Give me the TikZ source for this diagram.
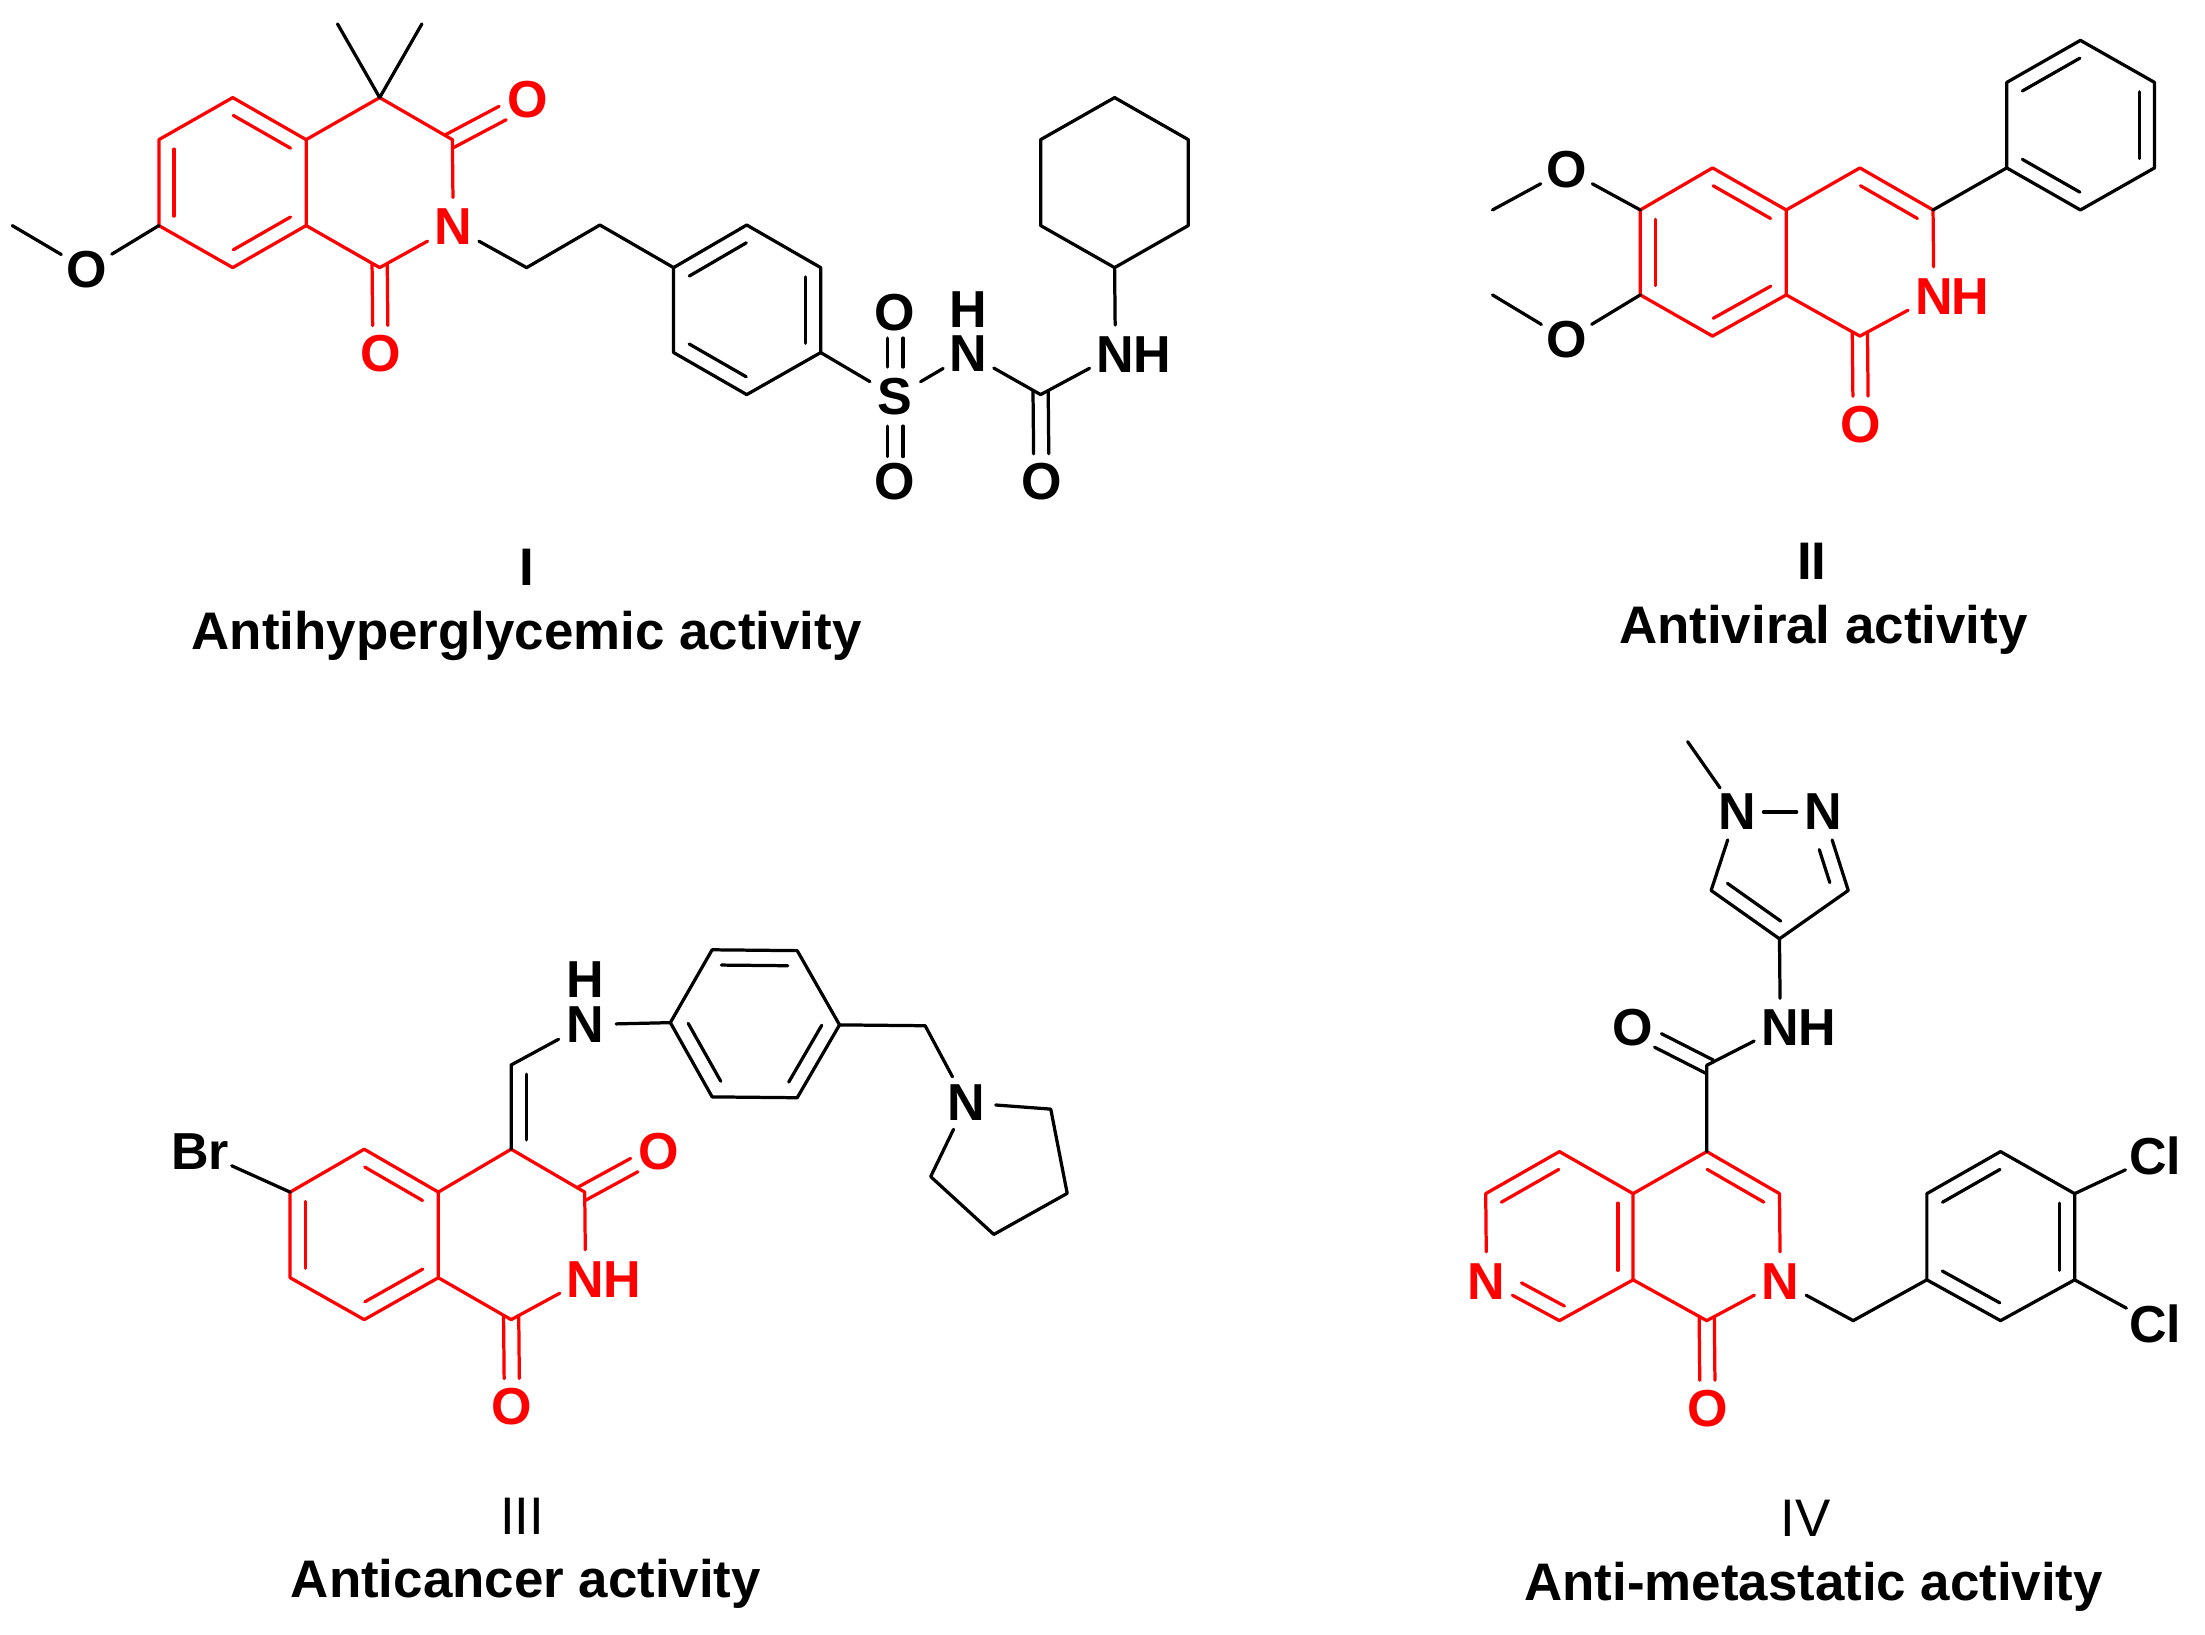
\documentclass[tikz,border=0pt]{standalone}
\usepackage{fontspec}
\setmainfont{Liberation Sans}
\usetikzlibrary{calc}
\tikzset{
  bond/.style={line width=1.15pt,line join=round,line cap=round},
  rb/.style={bond,draw=red},
  kb/.style={bond,draw=black},
  atomnode/.style={circle,inner sep=0pt,minimum size=20.5pt,xshift=0.3pt,yshift=-0.5pt,font=\fontsize{18.5}{22}\bfseries\selectfont},
  nhnode/.style={atomnode,minimum size=0pt},
  hnode/.style={inner sep=0pt,xshift=0.3pt,yshift=-0.5pt,font=\fontsize{18.5}{22}\bfseries\selectfont},
  capt/.style={inner sep=0pt,anchor=base,yshift=-1pt,font=\fontsize{18.8}{22}\bfseries\selectfont},
  numb/.style={inner sep=0pt,anchor=base,yshift=-0.5pt,font=\fontsize{18.8}{22}\bfseries\selectfont},
  numr/.style={inner sep=0pt,anchor=base,yshift=-0.8pt,font=\fontsize{18.8}{22}\selectfont},
}
% inner line of a double bond, on the right-hand side of a->b
\newcommand{\inbondf}[5]{\draw[#1] ($(#2)!#4!(#3)!5.4pt!-90:(#3)$) -- ($(#2)!#5!(#3)!5.4pt!-90:(#3)$);}
\newcommand{\inbond}[3]{\inbondf{#1}{#2}{#3}{0.11}{0.89}}
% C=O : symmetric pair from a carbon vertex to an atom node
\newcommand{\cdbl}[3]{%
  \draw[#1] ($(#2)!-1.2pt!(#3)!2.7pt!90:(#3)$) -- ($(#3)!10pt!(#2)!2.7pt!-90:(#2)$);
  \draw[#1] ($(#2)!-1.2pt!(#3)!2.7pt!-90:(#3)$) -- ($(#3)!10pt!(#2)!2.7pt!90:(#2)$);}
% S=O : symmetric pair, gaps at both ends
\newcommand{\sdbl}[3]{%
  \draw[#1] ($(#2)!10.5pt!(#3)!2.8pt!90:(#3)$) -- ($(#3)!9pt!(#2)!2.8pt!-90:(#2)$);
  \draw[#1] ($(#2)!10.5pt!(#3)!2.8pt!-90:(#3)$) -- ($(#3)!9pt!(#2)!2.8pt!90:(#2)$);}
\begin{document}
\begin{tikzpicture}[x=0.5pt,y=-0.5pt]
\useasboundingbox[fill=white] (0,0) rectangle (1568,1162);

%%% Compound I
\coordinate (Av1) at (165.5,69.4);
\coordinate (Av2) at (217.7,99.3);
\coordinate (Av3) at (217.7,160.4);
\coordinate (Av4) at (165.5,190.3);
\coordinate (Av5) at (113,160.4);
\coordinate (Av6) at (113,99.3);
\coordinate (Ac4) at (270,69.4);
\coordinate (Ac3) at (321.7,99.3);
\coordinate (Ac1) at (270,190.3);
\coordinate (Am1) at (240,17);
\coordinate (Am2) at (300,17);
\coordinate (Ame) at (8.7,160.4);
\coordinate (Ach1) at (374.5,190.3);
\coordinate (Ach2) at (426.6,160);
\coordinate (Ar1) at (479,190.3);
\coordinate (Ar2) at (531,160);
\coordinate (Ar3) at (583.6,190.3);
\coordinate (Ar4) at (583.6,250.7);
\coordinate (Ar5) at (531,280.6);
\coordinate (Ar6) at (479,250.7);
\coordinate (Acu) at (740,280.6);
\coordinate (Ah1) at (792.6,190.3);
\coordinate (Ah2) at (740,160.4);
\coordinate (Ah3) at (740,99.3);
\coordinate (Ah4) at (792.6,69.4);
\coordinate (Ah5) at (845,99.3);
\coordinate (Ah6) at (845,160.4);
\node[atomnode,text=red] (AN) at (321.7,160.4) {N};
\node[atomnode,text=red] (AO3) at (374.5,70) {O};
\node[atomnode,text=red] (AO1) at (270,250.5) {O};
\node[atomnode] (AOm) at (61,190.6) {O};
\node[atomnode] (AS) at (636,281) {S};
\node[atomnode] (AOs1) at (636,221.4) {O};
\node[atomnode] (AOs2) at (636,341.7) {O};
\node[nhnode] (ANa) at (688,250.5) {N};
\node[hnode] (AHa) at (688,219) {H};
\node[atomnode] (AOu) at (740,341.7) {O};
\node[atomnode] (ANb) at (792.6,251) {N};
\node[hnode] (AHb) at (818.6,251) {H};
\draw[rb] (Av1)--(Av2)--(Av3)--(Av4)--(Av5)--(Av6)--cycle;
\draw[rb] (Av2)--(Ac4)--(Ac3)--(AN);
\draw[rb] (AN)--(Ac1)--(Av3);
\inbond{rb}{Av1}{Av2}\inbond{rb}{Av3}{Av4}\inbond{rb}{Av5}{Av6}
\cdbl{rb}{Ac3}{AO3}\cdbl{rb}{Ac1}{AO1}
\draw[kb] (Am1)--(Ac4)--(Am2);
\draw[kb] (Av5)--(AOm)--(Ame);
\draw[kb] (AN)--(Ach1)--(Ach2)--(Ar1);
\draw[kb] (Ar1)--(Ar2)--(Ar3)--(Ar4)--(Ar5)--(Ar6)--cycle;
\inbond{kb}{Ar1}{Ar2}\inbond{kb}{Ar3}{Ar4}\inbond{kb}{Ar5}{Ar6}
\draw[kb] (Ar4)--(AS);
\sdbl{kb}{AS}{AOs1}\sdbl{kb}{AS}{AOs2}
\draw[kb,shorten >=1pt] (AS)--(ANa);
\draw[kb,shorten >=1pt] (Acu)--(ANa);
\draw[kb] (Acu)--(ANb);
\cdbl{kb}{Acu}{AOu}
\draw[kb] (ANb)--(Ah1);
\draw[kb] (Ah1)--(Ah2)--(Ah3)--(Ah4)--(Ah5)--(Ah6)--cycle;
\node[numb] (Alab) at (374.5,415.7) {I};
\node[capt] (Acap) at (374.5,460) {Antihyperglycemic activity};

%%% Compound II
\coordinate (Bv1) at (1217.8,119.4);
\coordinate (Bv2) at (1270.2,149.3);
\coordinate (Bv3) at (1270.2,209.7);
\coordinate (Bv4) at (1217.8,239);
\coordinate (Bv5) at (1166.4,209.7);
\coordinate (Bv6) at (1166.4,149.3);
\coordinate (Bc4) at (1322.6,119.4);
\coordinate (Bc3) at (1374.6,149.3);
\coordinate (Bc1) at (1322.6,239);
\coordinate (Bp1) at (1427,119.4);
\coordinate (Bp2) at (1427,58.6);
\coordinate (Bp3) at (1479.4,28.7);
\coordinate (Bp4) at (1532.1,58.6);
\coordinate (Bp5) at (1532.1,119.4);
\coordinate (Bp6) at (1479.4,149.3);
\coordinate (Bm1) at (1061.3,149.3);
\coordinate (Bm2) at (1061.3,209.7);
\node[atomnode,text=red] (BN) at (1374.6,209.7) {N};
\node[hnode,text=red] (BH) at (1400.6,209.7) {H};
\node[atomnode,text=red] (BO) at (1322.6,300.7) {O};
\node[atomnode] (BO1) at (1113.4,119.7) {O};
\node[atomnode] (BO2) at (1113.4,240.5) {O};
\draw[rb] (Bv1)--(Bv2)--(Bv3)--(Bv4)--(Bv5)--(Bv6)--cycle;
\draw[rb] (Bv2)--(Bc4)--(Bc3)--(BN);
\draw[rb] (BN)--(Bc1)--(Bv3);
\inbond{rb}{Bv1}{Bv2}\inbond{rb}{Bv3}{Bv4}\inbond{rb}{Bv5}{Bv6}\inbond{rb}{Bc4}{Bc3}
\cdbl{rb}{Bc1}{BO}
\draw[kb] (Bc3)--(Bp1);
\draw[kb] (Bp1)--(Bp2)--(Bp3)--(Bp4)--(Bp5)--(Bp6)--cycle;
\inbond{kb}{Bp2}{Bp3}\inbond{kb}{Bp4}{Bp5}\inbond{kb}{Bp6}{Bp1}
\draw[kb] (Bv6)--(BO1)--(Bm1);
\draw[kb] (Bv5)--(BO2)--(Bm2);
\node[numb] (Blab) at (1288.3,411) {II};
\node[capt] (Bcap) at (1296.6,455.8) {Antiviral activity};

%%% Compound III
\coordinate (Cv1) at (259,817.2);
\coordinate (Cv2) at (311.7,847.7);
\coordinate (Cv3) at (311.7,908.6);
\coordinate (Cv4) at (259,938.4);
\coordinate (Cv5) at (206.3,908.6);
\coordinate (Cv6) at (206.3,847.7);
\coordinate (Cc4) at (363.5,817.2);
\coordinate (Cc3) at (415.8,847.7);
\coordinate (Cc1) at (363.5,938.4);
\coordinate (Cch) at (363.5,757.3);
\coordinate (Cr1) at (476.7,727.2);
\coordinate (Cr2) at (506.4,675.4);
\coordinate (Cr3) at (566.9,676);
\coordinate (Cr4) at (597,728.8);
\coordinate (Cr5) at (566.9,780.6);
\coordinate (Cr6) at (506.4,780);
\coordinate (Cme) at (657.9,729.4);
\coordinate (Cp2) at (747.2,788.7);
\coordinate (Cp3) at (758.9,848.6);
\coordinate (Cp4) at (706.7,877.8);
\coordinate (Cp5) at (661.8,836.7);
\node[atomnode,text=red] (CN) at (415.8,908.6) {N};
\node[hnode,text=red] (CHr) at (441.8,908.6) {H};
\node[atomnode,text=red] (CO1) at (363.5,999.3) {O};
\node[atomnode,text=red] (CO3) at (468,817.9) {O};
\node[atomnode] (CBr) at (141.8,817.9) {Br};
\node[nhnode] (CNa) at (415.8,727.6) {N};
\node[hnode] (CHa) at (415.8,695.5) {H};
\node[atomnode] (CNp) at (686.6,783.2) {N};
\draw[rb] (Cv1)--(Cv2)--(Cv3)--(Cv4)--(Cv5)--(Cv6)--cycle;
\draw[rb] (Cv2)--(Cc4)--(Cc3)--(CN);
\draw[rb] (CN)--(Cc1)--(Cv3);
\inbond{rb}{Cv1}{Cv2}\inbond{rb}{Cv3}{Cv4}\inbond{rb}{Cv5}{Cv6}
\cdbl{rb}{Cc3}{CO3}\cdbl{rb}{Cc1}{CO1}
\draw[kb] (Cv6)--(CBr);
\draw[kb,shorten >=1.5pt] (Cc4)--(Cch)--(CNa);
\inbond{kb}{Cc4}{Cch}
\draw[kb,shorten <=1.5pt] (CNa)--(Cr1);
\draw[kb] (Cr1)--(Cr2)--(Cr3)--(Cr4)--(Cr5)--(Cr6)--cycle;
\inbond{kb}{Cr2}{Cr3}\inbond{kb}{Cr4}{Cr5}\inbond{kb}{Cr6}{Cr1}
\draw[kb] (Cr4)--(Cme)--(CNp);
\draw[kb] (CNp)--(Cp2)--(Cp3)--(Cp4)--(Cp5)--(CNp);
\node[numr] (Clab) at (371.4,1089.3) {III};
\node[capt] (Ccap) at (374,1133.7) {Anticancer activity};

%%% Compound IV
\coordinate (Dv1) at (1108.9,818.9);
\coordinate (Dv2) at (1161.3,848.8);
\coordinate (Dv3) at (1161.3,910.1);
\coordinate (Dv4) at (1108.9,939.1);
\coordinate (Dv6) at (1056.5,848.8);
\coordinate (Dc4) at (1213.7,818.9);
\coordinate (Dc3) at (1265.4,848.8);
\coordinate (Dc1) at (1213.7,939.1);
\coordinate (Dam) at (1213.7,757.5);
\coordinate (Dz4) at (1265.4,667.6);
\coordinate (Dz5) at (1216.8,633.2);
\coordinate (Dz3) at (1314.3,633.2);
\coordinate (Dme) at (1200.1,527.4);
\coordinate (Dch) at (1317.8,939.1);
\coordinate (Dr1) at (1370.2,910.1);
\coordinate (Dr2) at (1370.2,848.8);
\coordinate (Dr3) at (1422.6,818.9);
\coordinate (Dr4) at (1475.3,848.8);
\coordinate (Dr5) at (1475.3,910.1);
\coordinate (Dr6) at (1422.6,939.1);
\node[atomnode,text=red] (DNl) at (1056.5,910.1) {N};
\node[atomnode,text=red] (DN) at (1265.4,910.1) {N};
\node[atomnode,text=red] (DO) at (1213.7,1000.5) {O};
\node[atomnode] (DOa) at (1160.6,729.8) {O};
\node[atomnode] (DNa) at (1265.4,729.8) {N};
\node[hnode] (DHa) at (1291.4,729.8) {H};
\node[atomnode] (DN1) at (1234.5,576.4) {N};
\node[atomnode] (DN2) at (1295.9,576.4) {N};
\node[atomnode] (DCl1) at (1531.9,821) {Cl};
\node[atomnode] (DCl2) at (1531.9,940.4) {Cl};
\draw[rb] (Dv6)--(Dv1)--(Dv2)--(Dv3)--(Dv4)--(DNl);
\draw[rb] (DNl)--(Dv6);
\draw[rb] (Dv2)--(Dc4)--(Dc3)--(DN);
\draw[rb] (DN)--(Dc1)--(Dv3);
\inbond{rb}{Dv6}{Dv1}\inbond{rb}{Dv2}{Dv3}\inbondf{rb}{Dv4}{DNl}{0.03}{0.62}\inbond{rb}{Dc4}{Dc3}
\cdbl{rb}{Dc1}{DO}
\draw[kb] (Dc4)--(Dam)--(DNa);
\cdbl{kb}{Dam}{DOa}
\draw[kb] (DNa)--(Dz4);
\draw[kb] (Dz4)--(Dz5)--(DN1);
\draw[kb,shorten <=-1pt,shorten >=-1pt] (DN1)--(DN2);
\draw[kb] (DN2)--(Dz3)--(Dz4);
\inbond{kb}{Dz4}{Dz5}\inbondf{kb}{DN2}{Dz3}{0.42}{0.84}
\draw[kb] (DN1)--(Dme);
\draw[kb] (DN)--(Dch)--(Dr1);
\draw[kb] (Dr1)--(Dr2)--(Dr3)--(Dr4)--(Dr5)--(Dr6)--cycle;
\inbond{kb}{Dr2}{Dr3}\inbond{kb}{Dr4}{Dr5}\inbond{kb}{Dr6}{Dr1}
\draw[kb] (Dr4)--(DCl1);
\draw[kb] (Dr5)--(DCl2);
\node[numr] (Dlab) at (1284.1,1091.3) {IV};
\node[capt] (Dcap) at (1289.7,1136) {Anti-metastatic activity};
\end{tikzpicture}
\end{document}
